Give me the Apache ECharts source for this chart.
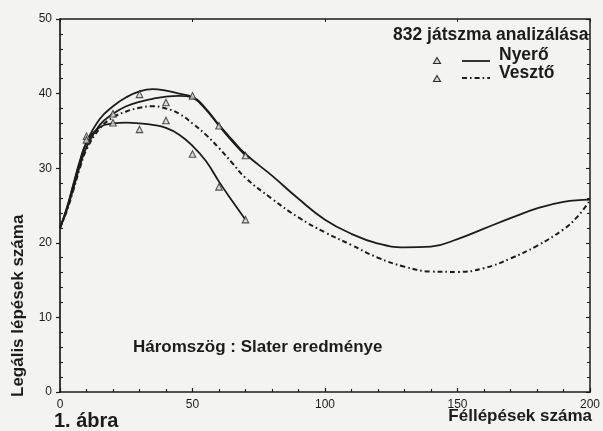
<!DOCTYPE html>
<html>
<head>
<meta charset="utf-8">
<script src="https://cdn.jsdelivr.net/npm/echarts@6/dist/echarts.min.js"></script>
<style>
html,body{margin:0;padding:0;background:#f3f3f1;}
#c{width:603px;height:431px;}
</style>
</head>
<body>
<div id="c"></div>
<script>
// ---- data ----
const xTicks = [0, 50, 100, 150, 200];
const yTicks = [0, 10, 20, 30, 40, 50];

const nyeroX = [0, 2.5, 5, 7.5, 10, 15, 20, 25, 30, 35, 40, 45, 50, 55, 60, 65, 70, 80, 90, 100, 110, 120, 130, 140, 150, 160, 170, 180, 190, 200];
const nyeroY = [22, 24.3, 27.2, 30.3, 32.8, 35.8, 37.3, 38.3, 38.9, 39.3, 39.6, 39.7, 39.5, 38.0, 35.8, 33.8, 31.9, 29.0, 25.9, 23.1, 21.2, 19.9, 19.4, 19.5, 20.5, 21.9, 23.3, 24.6, 25.5, 25.8];

const vesztoX = [0, 2.5, 5, 7.5, 10, 15, 20, 25, 30, 35, 40, 45, 50, 55, 60, 65, 70, 80, 90, 100, 110, 120, 130, 140, 150, 160, 170, 180, 190, 195, 200];
const vesztoY = [22, 24.2, 27.0, 30.0, 32.5, 35.3, 36.8, 37.6, 38.1, 38.3, 38.0, 37.3, 36.0, 34.5, 32.7, 30.7, 28.7, 25.9, 23.4, 21.4, 19.7, 18.0, 16.8, 16.15, 16.1, 16.6, 17.9, 19.6, 21.8, 23.4, 25.7];

const slaterNyeroX = [0, 2.5, 5, 7.5, 10, 15, 20, 25, 30, 35, 40, 45, 50, 55, 60, 65, 70];
const slaterNyeroY = [22, 24.5, 27.6, 30.8, 33.5, 36.6, 38.3, 39.5, 40.3, 40.6, 40.4, 40.0, 39.5, 37.9, 35.7, 33.6, 31.7];

const slaterVesztoX = [0, 2.5, 5, 7.5, 10, 15, 20, 25, 30, 35, 40, 45, 50, 55, 60, 65, 70];
const slaterVesztoY = [22, 24.6, 27.8, 31.0, 33.4, 35.5, 36.0, 36.1, 36.0, 35.8, 35.4, 34.5, 33.0, 31.0, 28.2, 25.6, 23.1];

const triX = [10, 20, 30, 40, 50, 60, 70];
const triNyero = [34.3, 37.3, 39.9, 38.8, 39.7, 35.7, 31.7];
const triVeszto = [33.8, 36.1, 35.2, 36.4, 31.9, 27.5, 23.1];

const legendTitle = '832 játszma analizálása';
const legendNames = ['Nyerő', 'Vesztő'];
const noteText = 'Háromszög : Slater eredménye';
const xName = 'Féllépések száma';
const yName = 'Legális lépések száma';
const figText = '1. ábra';

// ---- build ----
const zip = (xs, ys) => xs.map((x, i) => [x, ys[i]]);
const INK = '#1c1c1c';
const TRI_FILL = '#d6d6d3';
const FONT = '"Liberation Sans", Arial, sans-serif';

const chart = echarts.init(document.getElementById('c'), null, {renderer: 'canvas'});

const lineBase = {
  type: 'line', showSymbol: false, smooth: 0.45, silent: true,
  xAxisIndex: 0, yAxisIndex: 0, z: 3
};

const option = {
  backgroundColor: '#f3f3f1',
  animation: false,
  grid: {left: 60, right: 10, top: 19, bottom: 39, containLabel: false},
  xAxis: [{
    type: 'value', min: 0, max: 200, interval: 50,
    axisLine: {show: true, onZero: false, lineStyle: {color: INK, width: 1.7}},
    axisTick: {show: true, inside: true, length: 4, lineStyle: {color: INK, width: 1.2}},
    minorTick: {show: true, splitNumber: 5, length: 3, lineStyle: {color: INK, width: 1.1}},
    axisLabel: {show: true, margin: 7, color: INK, fontSize: 12, fontFamily: FONT,
      formatter: v => xTicks.includes(v) ? String(v) : ''},
    splitLine: {show: false}
  }, {
    type: 'value', position: 'top', min: 0, max: 200, interval: 50,
    axisLine: {show: true, onZero: false, lineStyle: {color: INK, width: 1.5}},
    axisTick: {show: true, inside: true, length: 3, lineStyle: {color: INK, width: 1}},
    axisLabel: {show: false}, splitLine: {show: false}
  }],
  yAxis: [{
    type: 'value', min: 0, max: 50, interval: 10,
    axisLine: {show: true, onZero: false, lineStyle: {color: INK, width: 1.7}},
    axisTick: {show: true, inside: false, length: 4, lineStyle: {color: INK, width: 1.2}},
    axisLabel: {show: true, margin: 8, color: INK, fontSize: 12, fontFamily: FONT,
      formatter: v => yTicks.includes(v) ? String(v) : ''},
    splitLine: {show: false}
  }, {
    type: 'value', position: 'left', min: 0, max: 50, interval: 10,
    axisLine: {show: false},
    axisTick: {show: false, inside: true},
    minorTick: {show: true, splitNumber: 5, length: 3, lineStyle: {color: INK, width: 1.1}},
    axisLabel: {show: false}, splitLine: {show: false}
  }, {
    type: 'value', position: 'right', min: 0, max: 50, interval: 10,
    axisLine: {show: true, onZero: false, lineStyle: {color: INK, width: 1.5}},
    axisTick: {show: true, inside: true, length: 4, lineStyle: {color: INK, width: 1.1}},
    minorTick: {show: true, splitNumber: 5, length: 3, lineStyle: {color: INK, width: 1}},
    axisLabel: {show: false}, splitLine: {show: false}
  }],
  series: [
    Object.assign({}, lineBase, {name: legendNames[0], data: zip(nyeroX, nyeroY),
      lineStyle: {color: INK, width: 1.8}}),
    Object.assign({}, lineBase, {name: legendNames[1], data: zip(vesztoX, vesztoY),
      lineStyle: {color: INK, width: 2, type: [5, 3, 1.6, 3]}}),
    Object.assign({}, lineBase, {name: 'Slater ' + legendNames[0], data: zip(slaterNyeroX, slaterNyeroY),
      lineStyle: {color: INK, width: 1.8}}),
    Object.assign({}, lineBase, {name: 'Slater ' + legendNames[1], data: zip(slaterVesztoX, slaterVesztoY),
      lineStyle: {color: INK, width: 1.8}}),
    {type: 'scatter', name: 'Slater △ ' + legendNames[0], data: zip(triX, triNyero), symbol: 'triangle',
      symbolSize: 6.5, z: 4, itemStyle: {color: TRI_FILL, borderColor: '#2a2a2a', borderWidth: 1.1}},
    {type: 'scatter', name: 'Slater △ ' + legendNames[1], data: zip(triX, triVeszto), symbol: 'triangle',
      symbolSize: 6.5, z: 4, itemStyle: {color: TRI_FILL, borderColor: '#2a2a2a', borderWidth: 1.1}}
  ],
  graphic: [
    {type: 'text', left: 393, top: 26, z: 10,
      style: {text: legendTitle, fill: INK, font: 'bold 17.5px ' + FONT}},
    {type: 'polygon', z: 10, shape: {points: [[437, 57.5], [433.5, 63.5], [440.5, 63.5]]},
      style: {fill: TRI_FILL, stroke: '#2a2a2a', lineWidth: 1.1}},
    {type: 'line', z: 10, shape: {x1: 462, y1: 61, x2: 490, y2: 61},
      style: {stroke: INK, lineWidth: 1.8}},
    {type: 'text', left: 499, top: 46, z: 10,
      style: {text: legendNames[0], fill: INK, font: 'bold 17.5px ' + FONT}},
    {type: 'polygon', z: 10, shape: {points: [[437, 75.5], [433.5, 81.5], [440.5, 81.5]]},
      style: {fill: TRI_FILL, stroke: '#2a2a2a', lineWidth: 1.1}},
    {type: 'line', z: 10, shape: {x1: 462, y1: 78, x2: 490, y2: 78},
      style: {stroke: INK, lineWidth: 2, lineDash: [5, 3, 1.6, 3]}},
    {type: 'text', left: 499, top: 64, z: 10,
      style: {text: legendNames[1], fill: INK, font: 'bold 17.5px ' + FONT}},
    {type: 'text', left: 133, top: 339, z: 10,
      style: {text: noteText, fill: INK, font: 'bold 17px ' + FONT}},
    {type: 'text', left: 54, top: 411, z: 10,
      style: {text: figText, fill: INK, font: 'bold 20px ' + FONT}},
    {type: 'text', right: 11, top: 408, z: 10,
      style: {text: xName, fill: INK, font: 'bold 17px ' + FONT}},
    {type: 'text', z: 10, x: 10, y: 397, rotation: Math.PI / 2,
      style: {text: yName, fill: INK, font: 'bold 17px ' + FONT, textAlign: 'left', textVerticalAlign: 'top'}}
  ]
};
chart.setOption(option);
</script>
</body>
</html>
